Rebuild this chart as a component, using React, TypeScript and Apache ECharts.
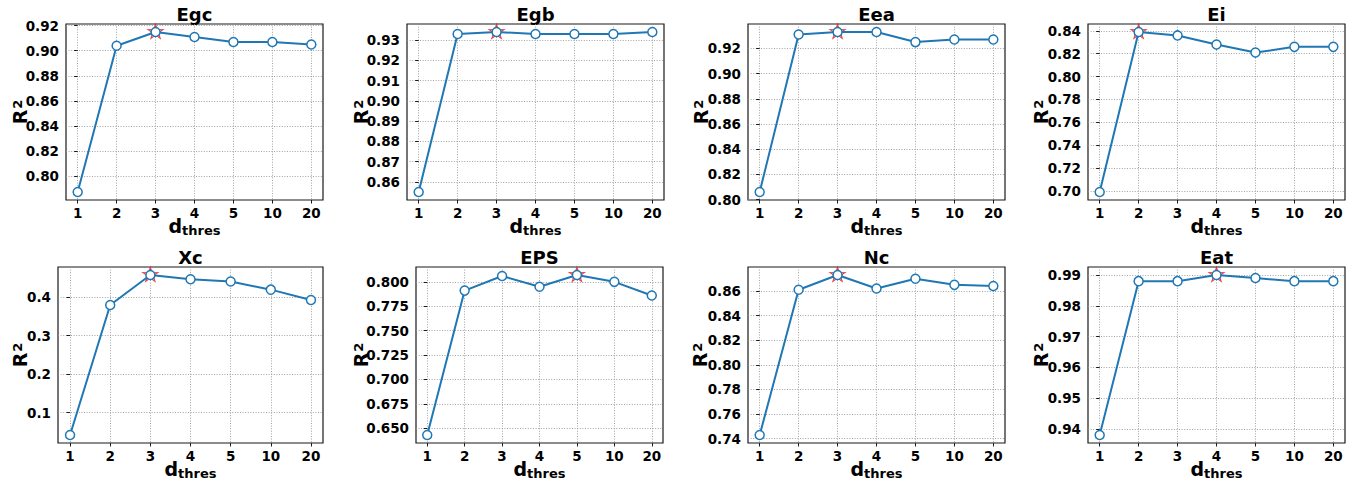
import React, { useEffect, useRef } from 'react';
import * as echarts from 'echarts';

// ---------- data ----------
const categories = ['1', '2', '3', '4', '5', '10', '20'];
const titles = ['Egc', 'Egb', 'Eea', 'Ei', 'Xc', 'EPS', 'Nc', 'Eat'];

const egcValues = [0.787, 0.904, 0.915, 0.911, 0.907, 0.907, 0.905];
const egbValues = [0.855, 0.933, 0.934, 0.933, 0.933, 0.933, 0.934];
const eeaValues = [0.806, 0.931, 0.933, 0.933, 0.925, 0.927, 0.927];
const eiValues = [0.699, 0.839, 0.836, 0.828, 0.821, 0.826, 0.826];
const xcValues = [0.042, 0.379, 0.457, 0.446, 0.44, 0.419, 0.392];
const epsValues = [0.643, 0.791, 0.806, 0.795, 0.807, 0.8, 0.786];
const ncValues = [0.743, 0.861, 0.873, 0.862, 0.87, 0.865, 0.864];
const eatValues = [0.938, 0.988, 0.988, 0.99, 0.989, 0.988, 0.988];

// index of the best (starred) point in each panel
const bestIndex = [2, 2, 2, 1, 2, 4, 2, 3];

const egcTicks = ['0.80', '0.82', '0.84', '0.86', '0.88', '0.90', '0.92'];
const egbTicks = ['0.86', '0.87', '0.88', '0.89', '0.90', '0.91', '0.92', '0.93'];
const eeaTicks = ['0.80', '0.82', '0.84', '0.86', '0.88', '0.90', '0.92'];
const eiTicks = ['0.70', '0.72', '0.74', '0.76', '0.78', '0.80', '0.82', '0.84'];
const xcTicks = ['0.1', '0.2', '0.3', '0.4'];
const epsTicks = ['0.650', '0.675', '0.700', '0.725', '0.750', '0.775', '0.800'];
const ncTicks = ['0.74', '0.76', '0.78', '0.80', '0.82', '0.84', '0.86'];
const eatTicks = ['0.94', '0.95', '0.96', '0.97', '0.98', '0.99'];

const panelValues = [egcValues, egbValues, eeaValues, eiValues, xcValues, epsValues, ncValues, eatValues];
const panelTicks = [egcTicks, egbTicks, eeaTicks, eiTicks, xcTicks, epsTicks, ncTicks, eatTicks];

// ---------- layout ----------
const FONT = '"DejaVu Sans", sans-serif';
const BLUE = '#1f77b4';
const PANEL_H = 176;
const boxes = [
  { left: 66, top: 24, width: 257, gap: 37 },
  { left: 407, top: 24, width: 257, gap: 36.5 },
  { left: 748, top: 24, width: 257, gap: 38 },
  { left: 1088, top: 24, width: 257, gap: 38 },
  { left: 58, top: 267, width: 265, gap: 29 },
  { left: 416, top: 267, width: 247, gap: 46 },
  { left: 748, top: 267, width: 257, gap: 39 },
  { left: 1088, top: 267, width: 257, gap: 38 },
];

const STAR_PATH =
  'path://M50,0 L61.17,34.63 L97.55,34.55 L68.07,55.87 L79.39,90.45 L50,69 L20.61,90.45 L31.93,55.87 L2.45,34.55 L38.83,34.63 Z';

export default function App() {
  const ref = useRef<HTMLDivElement>(null);

  useEffect(() => {
    if (!ref.current) return;
    const chart = echarts.init(ref.current, undefined, { renderer: 'svg' });

    const grids: any[] = [];
    const xAxes: any[] = [];
    const yAxes: any[] = [];
    const series: any[] = [];
    const graphics: any[] = [];

    const xIdx = categories.map((_, i) => i);

    panelValues.forEach((vals, p) => {
      const b = boxes[p];
      const ticks = panelTicks[p];
      const tickVals = ticks.map(Number);
      const decimals = (ticks[0].split('.')[1] || '').length;
      const lo = Math.min(...vals);
      const hi = Math.max(...vals);
      const pad = (hi - lo) * 0.05;

      grids.push({
        left: b.left,
        top: b.top,
        width: b.width,
        height: PANEL_H,
        show: true,
        borderColor: '#1a1a1a',
        borderWidth: 1.2,
        backgroundColor: 'transparent',
        containLabel: false,
        outerBoundsMode: 'none',
      });

      xAxes.push({
        type: 'value',
        gridIndex: p,
        min: -0.3,
        max: categories.length - 1 + 0.3,
        name: '{d|d}{t|thres}',
        nameLocation: 'middle',
        nameGap: 14,
        nameMoveOverlap: false,
        nameTextStyle: {
          color: '#000',
          fontFamily: FONT,
          fontWeight: 'bold',
          fontSize: 19,
          rich: {
            d: { fontFamily: FONT, fontWeight: 'bold', fontSize: 19, color: '#000' },
            t: { fontFamily: FONT, fontWeight: 'bold', fontSize: 13, color: '#000', padding: [10, 0, 0, 0] },
          },
        },
        axisLine: { show: false },
        axisTick: { show: true, inside: false, length: 3.5, customValues: xIdx, lineStyle: { color: '#1a1a1a', width: 1 } },
        axisLabel: {
          show: true,
          customValues: xIdx,
          margin: 6,
          color: '#000',
          fontFamily: FONT,
          fontWeight: 'bold',
          fontSize: 13.5,
          formatter: (v: number) => categories[Math.round(v)] ?? '',
        },
        splitLine: { show: true, lineStyle: { color: '#8c8c8c', width: 0.8, type: [1, 1.6] } },
      });

      yAxes.push({
        type: 'value',
        gridIndex: p,
        min: lo - pad,
        max: hi + pad,
        name: '{r|R}{s|2}',
        nameLocation: 'middle',
        nameRotate: 90,
        nameGap: b.gap,
        nameMoveOverlap: false,
        nameTextStyle: {
          color: '#000',
          fontFamily: FONT,
          fontWeight: 'bold',
          fontSize: 19,
          rich: {
            r: { fontFamily: FONT, fontWeight: 'bold', fontSize: 19, color: '#000' },
            s: { fontFamily: FONT, fontWeight: 'bold', fontSize: 13, color: '#000', padding: [0, 0, 5, 1] },
          },
        },
        axisLine: { show: false },
        axisTick: { show: true, inside: false, length: 3.5, customValues: tickVals, lineStyle: { color: '#1a1a1a', width: 1 } },
        axisLabel: {
          show: true,
          customValues: tickVals,
          margin: 7,
          color: '#000',
          fontFamily: FONT,
          fontWeight: 'bold',
          fontSize: 13.5,
          formatter: (v: number) => v.toFixed(decimals),
        },
        splitLine: { show: true, lineStyle: { color: '#8c8c8c', width: 0.8, type: [1, 1.6] } },
      });

      const bi = bestIndex[p];
      series.push({
        type: 'scatter',
        xAxisIndex: p,
        yAxisIndex: p,
        z: 1,
        symbol: STAR_PATH,
        symbolSize: [15, 14],
        symbolOffset: [0, -0.7],
        itemStyle: { color: 'transparent', borderColor: '#e8141c', borderWidth: 1.1 },
        data: [[bi, vals[bi]]],
        silent: true,
      });
      series.push({
        type: 'line',
        xAxisIndex: p,
        yAxisIndex: p,
        z: 3,
        symbol: 'circle',
        symbolSize: 9,
        showAllSymbol: true,
        lineStyle: { color: BLUE, width: 2 },
        itemStyle: { color: '#ffffff', borderColor: BLUE, borderWidth: 1.5 },
        data: vals.map((v, i) => [i, v]),
        silent: true,
      });

      graphics.push({
        type: 'text',
        x: b.left + b.width / 2,
        y: b.top - 10,
        style: {
          text: titles[p],
          fill: '#000',
          font: `bold 18px ${FONT}`,
          textAlign: 'center',
          textVerticalAlign: 'middle',
        },
      });
    });

    chart.setOption({
      animation: false,
      backgroundColor: '#ffffff',
      grid: grids,
      xAxis: xAxes,
      yAxis: yAxes,
      series,
      graphic: graphics,
    });

    return () => chart.dispose();
  }, []);

  return (
    <div
      ref={ref}
      style={{ position: 'absolute', left: 0, top: 0, width: 1346, height: 480 }}
    />
  );
}
